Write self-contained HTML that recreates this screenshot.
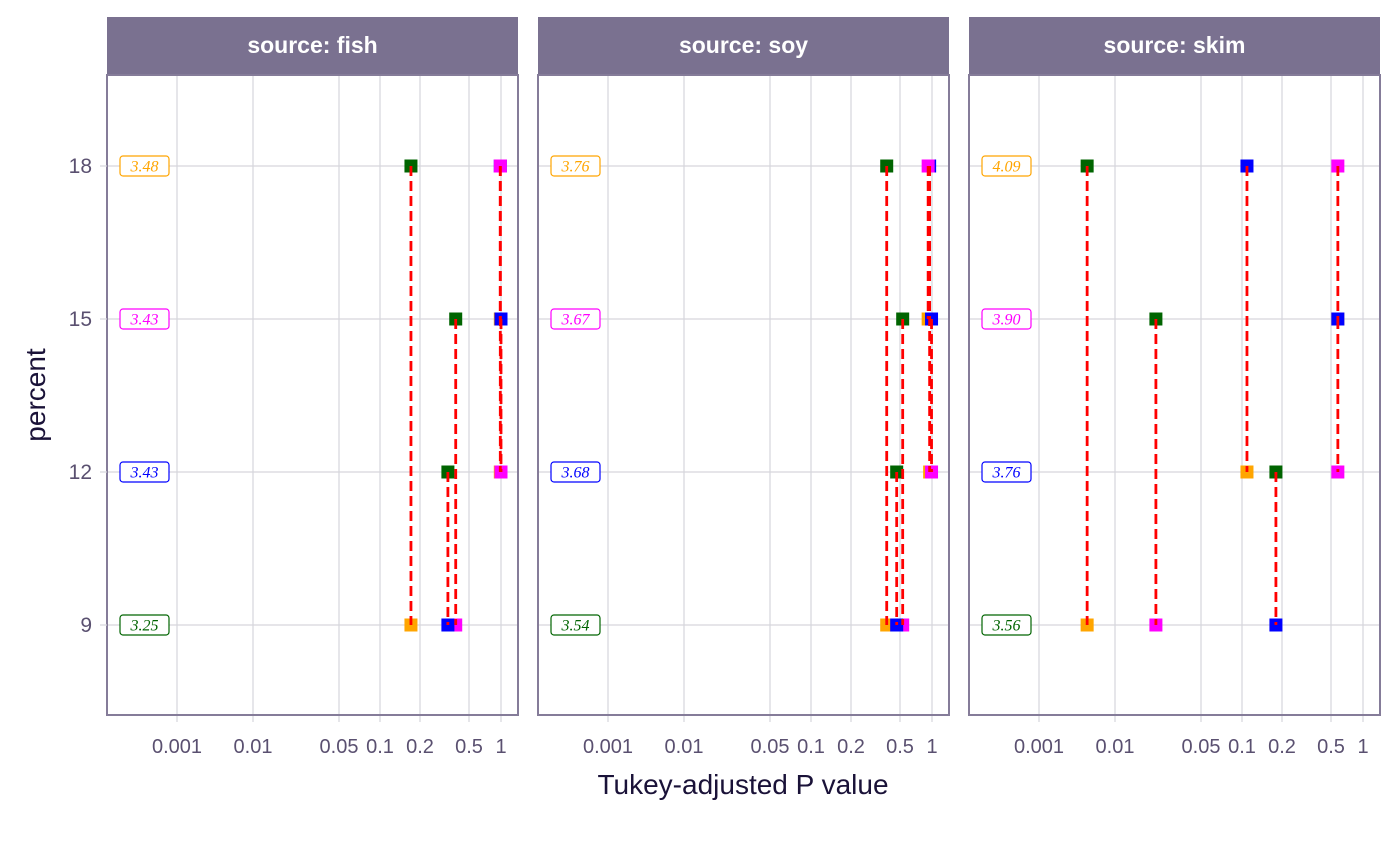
<!DOCTYPE html>
<html><head><meta charset="utf-8"><style>
html,body{margin:0;padding:0;background:#fff;}
svg{display:block;font-family:"Liberation Sans",sans-serif;}
</style></head><body>
<svg id="chart" width="1400" height="866" viewBox="0 0 1400 866">
<g id="root"></g>
</svg>
<script>
// Data
const panels = ["fish", "soy", "skim"];
const levels = [9, 12, 15, 18];
const levelColors = ["#006400", "#0000ff", "#ff00ff", "#ffa500"];
const yTicks = [9, 12, 15, 18];
const xTickValues = [0.001, 0.01, 0.05, 0.1, 0.2, 0.5, 1];
const xTickLabels = ["0.001", "0.01", "0.05", "0.1", "0.2", "0.5", "1"];
const pairs = [[9,18],[9,15],[9,12],[12,18],[15,18],[12,15]];
const pvalsFish = [0.171, 0.39, 0.337, 0.985, 0.985, 1.0];
const pvalsSoy = [0.39, 0.53, 0.47, 0.95, 0.92, 0.99];
const pvalsSkim = [0.0043, 0.0215, 0.18, 0.109, 0.58, 0.58];
const meansFish = [3.25, 3.43, 3.43, 3.48];
const meansSoy = [3.54, 3.68, 3.67, 3.76];
const meansSkim = [3.56, 3.76, 3.90, 4.09];
const pvals = [pvalsFish, pvalsSoy, pvalsSkim];
const means = [meansFish, meansSoy, meansSkim];

const NS = "http://www.w3.org/2000/svg";
const root = document.getElementById("root");
const panelLeft = [107, 538, 969], panelW = 411;
const plotTop = 75, plotBottom = 715, stripTop = 17;
const tKnots = [0, 0.30103, 0.69897, 1, 1.30103, 2, 3];
const xKnots = [394, 362, 313, 273, 232, 146, 70];
function xScale(p, pi) {
  const t = -Math.log10(p);
  let k = 0;
  while (k < tKnots.length - 2 && t > tKnots[k+1]) k++;
  const f = (t - tKnots[k]) / (tKnots[k+1] - tKnots[k]);
  return panelLeft[pi] + xKnots[k] + f * (xKnots[k+1] - xKnots[k]);
}
function yScale(v) { return 625 - (v - 9) * 51; }
function mk(tag, attrs, parent) {
  const e = document.createElementNS(NS, tag);
  for (const k in attrs) e.setAttribute(k, attrs[k]);
  (parent || root).appendChild(e);
  return e;
}

panels.forEach((name, pi) => {
  const L = panelLeft[pi];
  const g = mk("g", {});
  
  
  const strip = mk("rect", {x: L, y: stripTop, width: panelW, height: plotTop - stripTop, fill: "#7a7190"}, g);
  
  
  const st = mk("text", {x: L + panelW/2, y: 53, "text-anchor": "middle", fill: "#fff", "font-size": "23", "font-weight": "bold"}, g);
  st.textContent = "source: " + name;
  
  
  yTicks.forEach(v => {
    const l = mk("line", {x1: L, x2: L + panelW, y1: yScale(v), y2: yScale(v), stroke: "#d6d5dc", "stroke-width": 1.2}, g);
    
    
  });
  xTickValues.forEach((v, i) => {
    const x = xScale(v, pi);
    const l = mk("line", {x1: x, x2: x, y1: plotTop, y2: plotBottom, stroke: "#d6d5dc", "stroke-width": 1.2}, g);
    
    
    const tk = mk("line", {x1: x, x2: x, y1: plotBottom, y2: plotBottom + 7, stroke: "#d6d5dc", "stroke-width": 1.2}, g);
    
    
    const tl = mk("text", {x: x, y: 753, "text-anchor": "middle", fill: "#5a5070", "font-size": "20"}, g);
    tl.textContent = xTickLabels[i];
    
    
  });
  pairs.forEach((pr, ci) => {
    const x = xScale(pvals[pi][ci], pi);
    const ia = levels.indexOf(pr[0]), ib = levels.indexOf(pr[1]);
    [[pr[0], ib], [pr[1], ia]].forEach(([lv, ci2]) => {
      const r = mk("rect", {x: x - 6.5, y: yScale(lv) - 6.5, width: 13, height: 13, fill: levelColors[ci2]}, g);
      
      
    });
  });
  pairs.forEach((pr, ci) => {
    const x = xScale(pvals[pi][ci], pi);
    const l = mk("line", {x1: x, x2: x, y1: yScale(pr[1]), y2: yScale(pr[0]), stroke: "#ff0000", "stroke-width": 2.8, "stroke-dasharray": "10,5"}, g);
    
    
  });
  levels.forEach((lv, li) => {
    const y = yScale(lv);
    const b = mk("rect", {x: L + 13, y: y - 10, width: 49, height: 20, rx: 3, fill: "#fff", stroke: levelColors[li], "stroke-width": 1.2}, g);
    
    
    const t = mk("text", {x: L + 37.5, y: y + 5.5, "text-anchor": "middle", fill: levelColors[li], "font-size": "16", "font-style": "italic", "font-family": "Liberation Serif, serif"}, g);
    t.textContent = means[pi][li].toFixed(2);
    
    
  });
  const br = mk("rect", {x: L, y: plotTop, width: panelW, height: plotBottom - plotTop, fill: "none", stroke: "#857c99", "stroke-width": 2}, g);
  
  
});
yTicks.forEach(v => {
  const tk = mk("line", {x1: 100, x2: 107, y1: yScale(v), y2: yScale(v), stroke: "#d6d5dc", "stroke-width": 1.2});
  
  
  const t = mk("text", {x: 92, y: yScale(v) + 7, "text-anchor": "end", fill: "#5a5070", "font-size": "21"});
  t.textContent = v;
  
  
});
const yt = mk("text", {x: 0, y: 0, transform: "translate(45,395) rotate(-90)", "text-anchor": "middle", fill: "#1a1238", "font-size": "28"});
yt.textContent = "percent";


const xt = mk("text", {x: 743, y: 794, "text-anchor": "middle", fill: "#1a1238", "font-size": "28"});
xt.textContent = "Tukey-adjusted P value";


</script>
</body></html>
